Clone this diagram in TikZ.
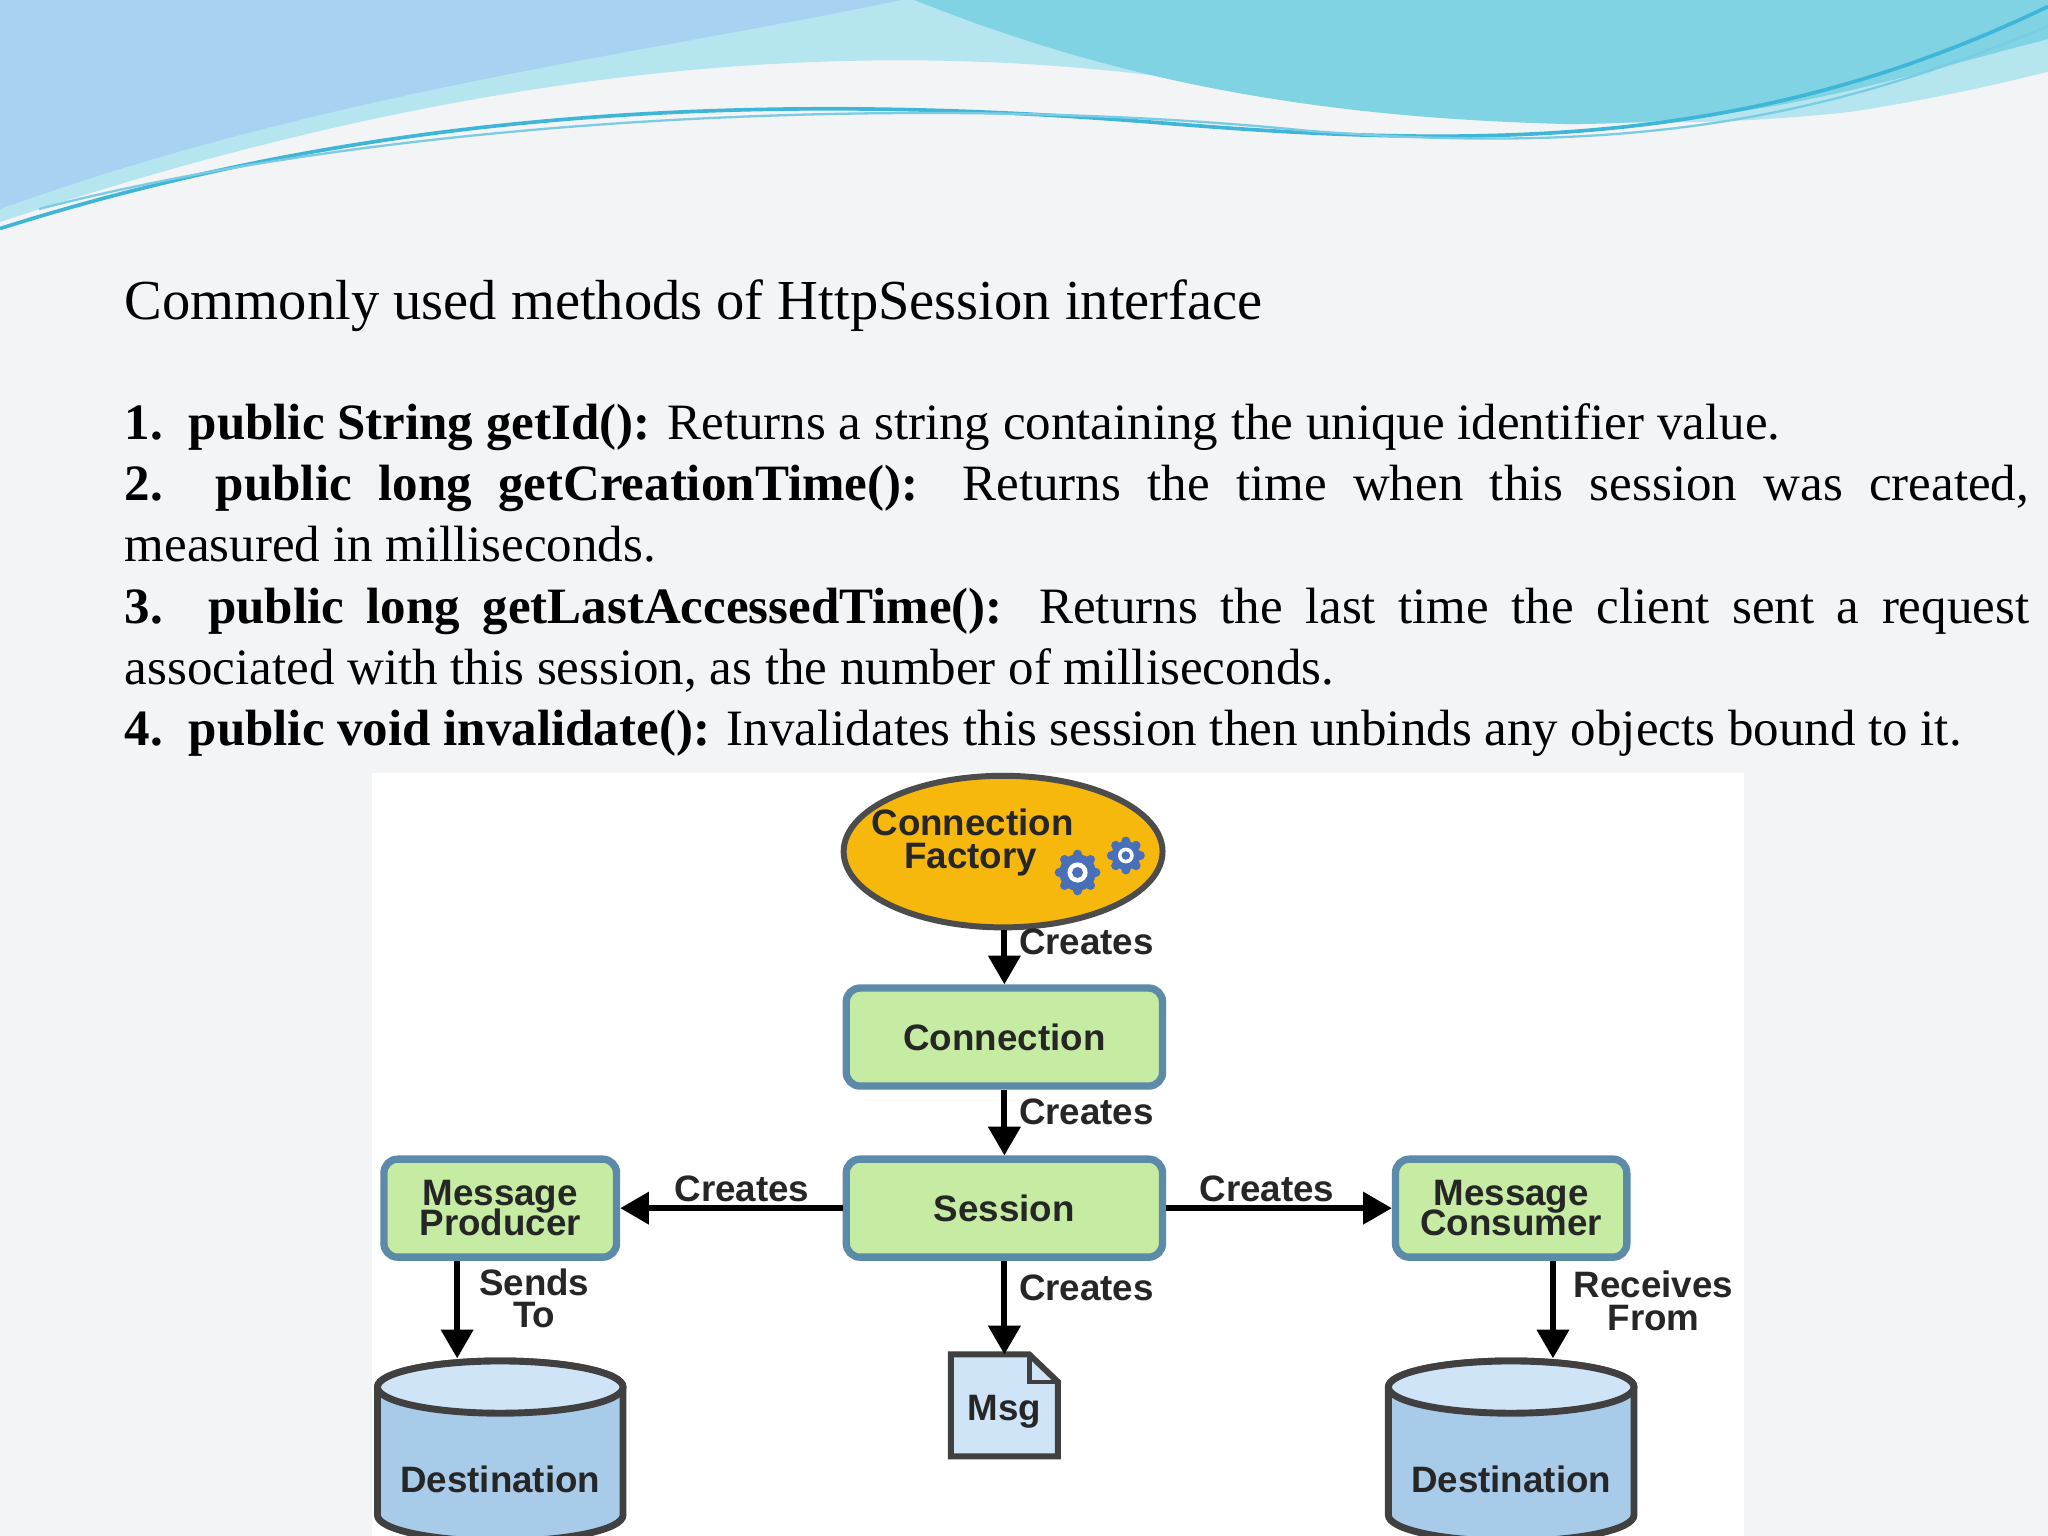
\documentclass[tikz,border=0pt]{standalone}
\usepackage{fontspec}
\setmainfont{Liberation Serif}
\newfontfamily\dsans{Liberation Sans}
\usetikzlibrary{arrows.meta,shapes.geometric}
\definecolor{bgc}{HTML}{F3F4F6}
\definecolor{boxg}{HTML}{C6EBA2}
\definecolor{boxb}{HTML}{5B8BA8}
\definecolor{cylb}{HTML}{A9CBEA}
\definecolor{cylt}{HTML}{CFE5F7}
\definecolor{orng}{HTML}{F6B80C}
\definecolor{wav1}{HTML}{7FD3E3}
\definecolor{wav2}{HTML}{B5E6EF}
\definecolor{wav3}{HTML}{3FB6D8}
\tikzset{
 gbox/.style={draw=boxb,line width=1.6pt,fill=boxg,rounded corners=3pt,font=\dsans\bfseries\fontsize{8}{8.5}\selectfont,align=center,inner sep=0pt,text=black!85},
 arr/.style={line width=1.3pt,-{Triangle[length=0.22cm,width=0.24cm]}},
 lbl/.style={font=\dsans\bfseries\fontsize{8}{8}\selectfont,align=center,inner sep=1pt,text=black!85}
}
\begin{document}
\begin{tikzpicture}[x=0.01cm,y=-0.01cm]
\useasboundingbox (0,0) rectangle (1568,1176);
\fill[bgc] (0,0) rectangle (1568,1176);
% top wave
\fill[wav2] (0,0) -- (1568,0) -- (1568,60) .. controls (1350,110) and (1150,100) .. (900,60) .. controls (600,20) and (300,70) .. (0,170) -- cycle;
\fill[wav1] (0,0) -- (700,0) .. controls (850,60) and (1000,90) .. (1200,95) .. controls (1350,95) and (1450,60) .. (1568,30) -- (1568,0) -- cycle;
\fill[wav1!85!blue!60] (0,0) -- (690,0) .. controls (500,40) and (250,70) .. (0,160) -- cycle;
\fill[bgc] (0,175) .. controls (300,80) and (600,70) .. (900,95) .. controls (1150,115) and (1350,110) .. (1568,55) -- (1568,75) .. controls (1350,125) and (1100,125) .. (900,110) .. controls (600,90) and (300,100) .. (0,180) -- cycle;
\draw[wav3,line width=0.8pt] (0,175) .. controls (300,80) and (600,70) .. (900,95) .. controls (1150,115) and (1350,110) .. (1568,5);
\draw[wav3!70,line width=0.5pt] (30,160) .. controls (300,90) and (700,70) .. (1000,100) .. controls (1250,120) and (1400,90) .. (1568,20);
% text
\node[anchor=base west,inner sep=0pt,font=\fontsize{12.3}{13}\selectfont] (title) at (95,245) {Commonly used methods of HttpSession interface};
\node[anchor=north west,inner sep=0pt,text width=14.57cm,align=justify,font=\fontsize{11.1}{13.35}\selectfont] (body) at (95,308) {%
\textbf{1.\ \ public String getId():} Returns a string containing the unique identifier value.\\
\textbf{2.\ \ public long getCreationTime():} Returns the time when this session was created,\linebreak measured in milliseconds.\\
\textbf{3.\ \ public long getLastAccessedTime():} Returns the last time the client sent a request\linebreak associated with this session, as the number of milliseconds.\\
\textbf{4.\ \ public void invalidate():} Invalidates this session then unbinds any objects bound to it.};
% diagram background
\fill[white] (285,592) rectangle (1335,1176);
% connection factory
\node[ellipse,draw=black!70,line width=1.3pt,fill=orng,minimum width=2.44cm,minimum height=1.16cm] (cf) at (768,652) {};
\node[lbl,align=left,anchor=west] (cft) at (663,645) {Connection\\[-1pt]\hspace{2.5mm}Factory};
\foreach \cx/\cy/\r in {825/668/14,862/655/11}{
 \fill[boxb!80!blue] (\cx,\cy) circle (\r);
 \foreach \a in {0,45,...,315} \fill[boxb!80!blue] (\cx,\cy) ++(\a:\r) circle (3.5);
 \fill[white] (\cx,\cy) circle (0.55*\r);
 \fill[boxb!80!blue] (\cx,\cy) circle (0.3*\r);
}
\node[gbox,minimum width=2.42cm,minimum height=0.75cm] (conn) at (769,794) {Connection};
\node[gbox,minimum width=2.42cm,minimum height=0.75cm] (sess) at (769,925) {Session};
\node[gbox,minimum width=1.78cm,minimum height=0.75cm] (prod) at (383,925) {Message\\[-2pt]Producer};
\node[gbox,minimum width=1.77cm,minimum height=0.75cm] (cons) at (1157,925) {Message\\[-2pt]Consumer};
% cylinders
\foreach \nm/\cx in {dl/383,dr/1157}{
 \fill[cylb,draw=black!75,line width=1.5pt] (\cx-94,1062) -- (\cx-94,1160) arc[start angle=180,end angle=0,x radius=94,y radius=20] -- (\cx+94,1062) arc[start angle=0,end angle=-180,x radius=94,y radius=20];
 \fill[cylt,draw=black!75,line width=1.5pt] (\cx,1062) ellipse[x radius=94,y radius=20];
 \node[lbl] (\nm) at (\cx,1133) {Destination};
}
\coordinate (dlt) at (350,1040);
\coordinate (drt) at (1189,1040);
% msg
\draw[fill=cylt,draw=black!75,line width=1.3pt] (728,1037) -- (788,1037) -- (810,1058) -- (810,1115) -- (728,1115) -- cycle;
\draw[black!75,line width=1pt] (788,1037) -- (788,1058) -- (810,1058);
\node[lbl] (msg) at (769,1081) {Msg};
\coordinate (msgt) at (769,1037);
% arrows
\draw[arr] (cf.south -| conn.north) -- (conn.north);
\node[lbl,anchor=west] at (776,721) {Creates};
\draw[arr] (conn.south) -- (sess.north);
\node[lbl,anchor=west] at (776,851) {Creates};
\draw[arr] (sess.west) -- (prod.east);
\node[lbl] at (568,910) {Creates};
\draw[arr] (sess.east) -- (cons.west);
\node[lbl] at (970,910) {Creates};
\draw[arr] (sess.south) -- (msgt);
\node[lbl,anchor=west] at (776,986) {Creates};
\draw[arr] (prod.south -| dlt) -- (dlt);
\node[lbl] at (409,994) {Sends\\[-1pt]To};
\draw[arr] (cons.south -| drt) -- (drt);
\node[lbl] at (1266,996) {Receives\\[-1pt]From};
\end{tikzpicture}
\end{document}
